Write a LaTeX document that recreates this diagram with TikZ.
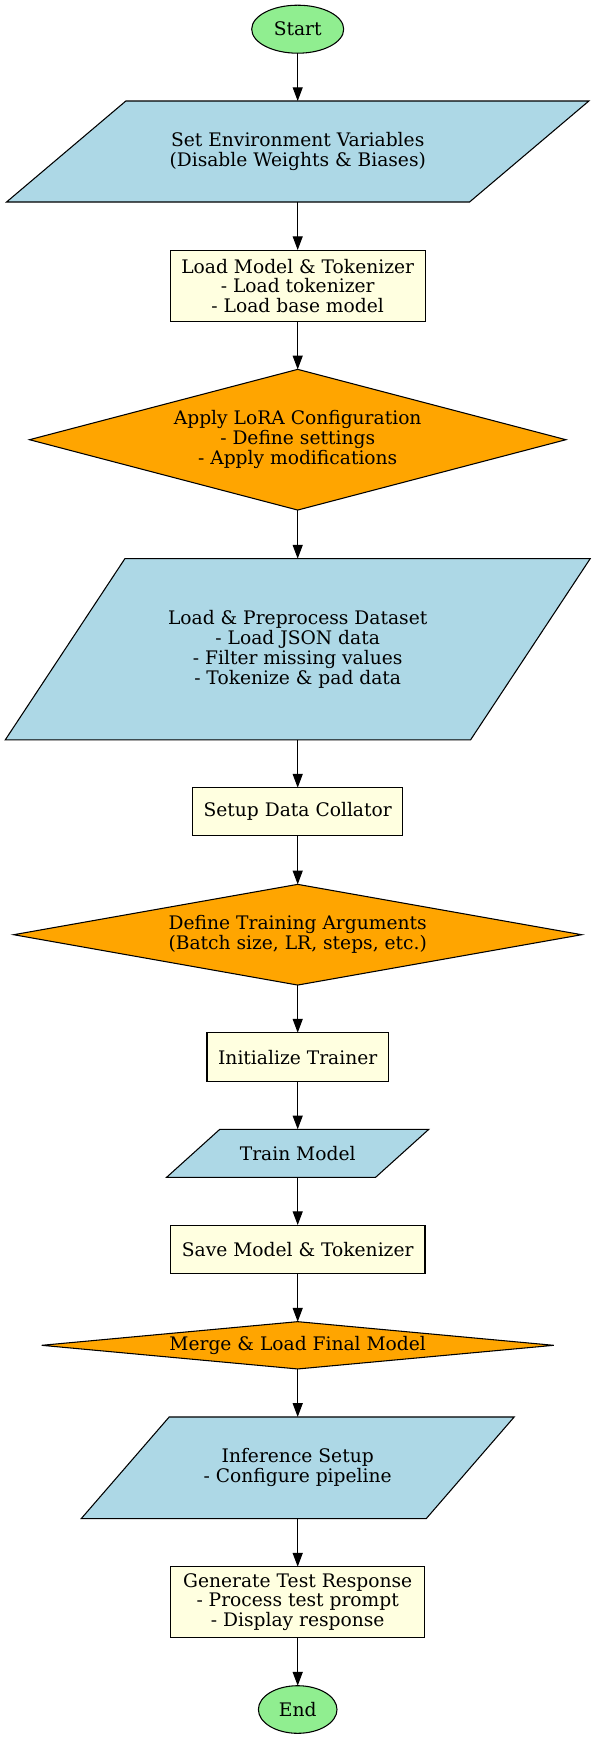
\documentclass[tikz,border=0pt]{standalone}
\usepackage{fontspec}
\setmainfont{DejaVu Serif}
\usetikzlibrary{shapes.geometric,arrows.meta,backgrounds}
\definecolor{lblue}{RGB}{173,216,230}
\definecolor{lyellow}{RGB}{255,255,224}
\definecolor{gorange}{RGB}{255,165,0}
\definecolor{lgreen}{RGB}{144,238,144}
\begin{document}
\begin{tikzpicture}[x=0.75pt,y=-0.75pt,
  base/.style={inner sep=0pt,outer sep=0pt,align=center,
    font=\fontsize{14}{14.8}\selectfont,line width=0.8pt},
  term/.style={base,ellipse,draw,fill=lgreen},
  procbox/.style={base,rectangle,draw,fill=lyellow},
  decbox/.style={base,diamond,draw,fill=gorange},
  iobox/.style={base,rectangle,draw=none},
  iofill/.style={fill=lblue,draw=black,line width=0.8pt,line join=miter},
  arr/.style={line width=0.8pt,-{Triangle[length=10.3pt,width=7.5pt]}}]
\useasboundingbox (0,0) rectangle (597,1739);

\node[term,minimum width=0.75*92pt,minimum height=0.75*48pt] (start) at (297.7,29.2) {Start};
\node[iobox,minimum width=0.75*582.3pt,minimum height=0.75*101pt] (env) at (297.7,151.5)
  {Set Environment Variables\\(Disable Weights \& Biases)};
\node[procbox,minimum width=0.75*255pt,minimum height=0.75*71.7pt] (load) at (297.7,285.9)
  {Load Model \& Tokenizer\\- Load tokenizer\\- Load base model};
\node[decbox,aspect=3.8,minimum width=0.75*536.4pt,minimum height=0.75*140.7pt] (lora) at (297.7,439.7)
  {Apply LoRA Configuration\\- Define settings\\- Apply modifications};
\node[iobox,minimum width=0.75*585pt,minimum height=0.75*181.3pt] (data) at (297.7,649.3)
  {Load \& Preprocess Dataset\\- Load JSON data\\- Filter missing values\\- Tokenize \& pad data};
\node[procbox,minimum width=0.75*210pt,minimum height=0.75*48pt] (coll) at (297.7,811.7)
  {Setup Data Collator};
\node[decbox,aspect=5.6,minimum width=0.75*568pt,minimum height=0.75*100.7pt] (targs) at (297.7,934.7)
  {Define Training Arguments\\(Batch size, LR, steps, etc.)};
\node[procbox,minimum width=0.75*181.4pt,minimum height=0.75*49pt] (init) at (297.7,1057.2)
  {Initialize Trainer};
\node[iobox,minimum width=0.75*262.2pt,minimum height=0.75*48pt] (train) at (297.7,1153.3)
  {Train Model};
\node[procbox,minimum width=0.75*254.6pt,minimum height=0.75*48.3pt] (save) at (297.7,1249.2)
  {Save Model \& Tokenizer};
\node[decbox,aspect=10.8,minimum width=0.75*512pt,minimum height=0.75*47.3pt] (merge) at (297.7,1345.3)
  {Merge \& Load Final Model};
\node[iobox,minimum width=0.75*433pt,minimum height=0.75*101.7pt] (infer) at (297.7,1467.8)
  {Inference Setup\\- Configure pipeline};
\node[procbox,minimum width=0.75*253.5pt,minimum height=0.75*70.6pt] (gen) at (297.7,1602)
  {Generate Test Response\\- Process test prompt\\- Display response};
\node[term,minimum width=0.75*78.6pt,minimum height=0.75*47.6pt] (end) at (297.7,1709.5) {End};

\begin{scope}[on background layer]
  \path[iofill] ([xshift=0.75*119.3pt]env.north west) -- (env.north east)
    -- ([xshift=-0.75*119.3pt]env.south east) -- (env.south west) -- cycle;
  \path[iofill] ([xshift=0.75*119.7pt]data.north west) -- (data.north east)
    -- ([xshift=-0.75*119.7pt]data.south east) -- (data.south west) -- cycle;
  \path[iofill] ([xshift=0.75*53.2pt]train.north west) -- (train.north east)
    -- ([xshift=-0.75*53.2pt]train.south east) -- (train.south west) -- cycle;
  \path[iofill] ([xshift=0.75*88pt]infer.north west) -- (infer.north east)
    -- ([xshift=-0.75*88pt]infer.south east) -- (infer.south west) -- cycle;
\end{scope}

\draw[arr] (start) -- (env);
\draw[arr] (env) -- (load);
\draw[arr] (load) -- (lora);
\draw[arr] (lora) -- (data);
\draw[arr] (data) -- (coll);
\draw[arr] (coll) -- (targs);
\draw[arr] (targs) -- (init);
\draw[arr] (init) -- (train);
\draw[arr] (train) -- (save);
\draw[arr] (save) -- (merge);
\draw[arr] (merge) -- (infer);
\draw[arr] (infer) -- (gen);
\draw[arr] (gen) -- (end);
\end{tikzpicture}
\end{document}
